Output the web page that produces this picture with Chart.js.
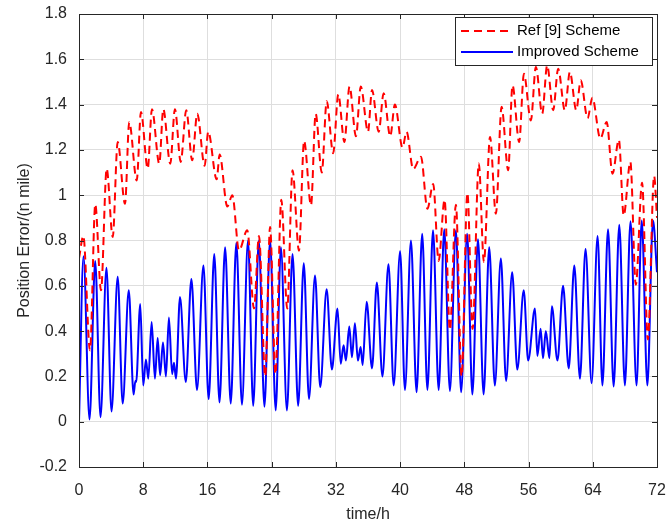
<!DOCTYPE html>
<html>
<head>
<meta charset="utf-8">
<script src="https://cdn.jsdelivr.net/npm/chart.js@4.4.0/dist/chart.umd.min.js"></script>
<style>
  html, body { margin: 0; padding: 0; background: #fff; }
</style>
</head>
<body>
<canvas id="errChart" width="668" height="526"></canvas>
<script>
const xTicks = [0, 8, 16, 24, 32, 40, 48, 56, 64, 72];
const yTicks = [-0.2, 0, 0.2, 0.4, 0.6, 0.8, 1, 1.2, 1.4, 1.6, 1.8];

const seriesNames = ['Ref [9] Scheme', 'Improved Scheme'];

// Ref [9] scheme (red dashed) at peaks / troughs
const refTime = [0, 0.54, 1.37, 2.03, 2.74, 3.45, 4.2, 4.82, 5.73, 6.26, 7.19, 7.72, 8.56, 9.09,
  10.0, 10.5, 11.37, 11.95, 12.67, 13.36, 14.1, 14.73, 15.65, 16.1, 17.15, 17.52, 18.47, 19.1,
  19.93, 20.96, 21.8, 22.42, 23.2, 23.8, 24.47, 25.2, 25.94, 26.6, 27.4, 28.04, 28.9, 29.48,
  30.24, 30.86, 31.66, 32.3, 33.06, 33.7, 34.5, 35.1, 36.0, 36.5, 37.33, 37.95, 38.77, 39.35,
  40.3, 40.8, 41.63, 42.6, 43.4, 44.12, 44.8, 45.54, 46.2, 46.95, 47.66, 48.38, 49.03, 49.8,
  50.44, 51.2, 51.93, 52.64, 53.46, 54.0, 54.83, 55.42, 56.29, 56.91, 57.7, 58.32, 59.07, 59.69,
  60.52, 61.15, 61.94, 62.5, 63.35, 63.95, 64.94, 65.73, 66.46, 67.25, 67.85, 68.68, 69.36,
  70.14, 70.86, 71.64, 72];
const refError = [0.72, 0.82, 0.315, 0.96, 0.58, 1.117, 0.815, 1.235, 0.962, 1.323, 1.065, 1.367, 1.117, 1.38,
  1.139, 1.38, 1.139, 1.38, 1.147, 1.375, 1.154, 1.36, 1.13, 1.28, 1.07, 1.18, 0.95, 1.0,
  0.756, 0.845, 0.5, 0.82, 0.2, 0.86, 0.21, 0.98, 0.5, 1.11, 0.755, 1.24, 0.955, 1.36,
  1.1, 1.415, 1.185, 1.445, 1.235, 1.48, 1.26, 1.48, 1.28, 1.465, 1.28, 1.45, 1.26, 1.4,
  1.21, 1.28, 1.115, 1.17, 0.94, 1.05, 0.71, 0.98, 0.405, 0.958, 0.2, 1.01, 0.41, 1.14,
  0.705, 1.257, 0.918, 1.39, 1.11, 1.485, 1.235, 1.536, 1.33, 1.566, 1.36, 1.573, 1.375, 1.558,
  1.375, 1.544, 1.375, 1.507, 1.34, 1.43, 1.25, 1.323, 1.095, 1.245, 0.91, 1.147, 0.605,
  1.055, 0.363, 1.085, 0.9];

// Improved scheme (blue solid)
const impTime = [0, 0.56, 1.31, 2.02, 2.68, 3.42, 4.05, 4.82, 5.44, 6.2, 6.8, 7.02, 7.12, 7.63,
  8.0, 8.34, 8.63, 9.05, 9.46, 9.8, 10.1, 10.46, 10.83, 11.2, 11.6, 11.83, 12.08, 12.58,
  13.3, 14.0, 14.7, 15.5, 16.15, 16.85, 17.5, 18.2, 18.9, 19.6, 20.3, 21.05, 21.7, 22.4,
  23.1, 23.8, 24.5, 25.15, 25.9, 26.6, 27.3, 28.0, 28.65, 29.4, 30.05, 30.85, 31.5, 32.2,
  32.6, 32.96, 33.25, 33.67, 34.0, 34.37, 34.74, 35.08, 35.33, 35.83, 36.5, 37.1, 37.8, 38.55,
  39.2, 40.0, 40.6, 41.35, 42.05, 42.75, 43.4, 44.1, 44.8, 45.5, 46.2, 46.95, 47.6, 48.35,
  49.0, 49.7, 50.4, 51.1, 51.8, 52.55, 53.2, 53.96, 54.6, 55.4, 55.95, 56.8, 57.1, 57.5,
  57.8, 58.15, 58.6, 58.9, 59.6, 60.3, 61.0, 61.7, 62.4, 63.1, 63.85, 64.6, 65.2, 65.9,
  66.6, 67.3, 68.0, 68.7, 69.45, 70.1, 70.8, 71.5, 72];
const impError = [0, 0.73, 0.01, 0.71, 0.02, 0.68, 0.045, 0.64, 0.08, 0.58, 0.12, 0.18, 0.175, 0.52,
  0.16, 0.275, 0.19, 0.44, 0.19, 0.37, 0.205, 0.35, 0.2, 0.46, 0.21, 0.26, 0.19, 0.55,
  0.175, 0.63, 0.14, 0.69, 0.1, 0.74, 0.085, 0.77, 0.08, 0.79, 0.075, 0.8, 0.07, 0.8,
  0.066, 0.8, 0.05, 0.77, 0.05, 0.74, 0.07, 0.7, 0.1, 0.645, 0.153, 0.585, 0.23, 0.5,
  0.256, 0.337, 0.27, 0.42, 0.285, 0.435, 0.27, 0.33, 0.25, 0.53, 0.235, 0.615, 0.2, 0.695,
  0.16, 0.753, 0.14, 0.8, 0.13, 0.83, 0.14, 0.845, 0.14, 0.85, 0.135, 0.845, 0.13, 0.83,
  0.12, 0.806, 0.12, 0.77, 0.16, 0.72, 0.18, 0.66, 0.23, 0.58, 0.27, 0.5, 0.29, 0.41,
  0.28, 0.4, 0.28, 0.51, 0.27, 0.6, 0.235, 0.69, 0.19, 0.763, 0.17, 0.82, 0.16, 0.85,
  0.155, 0.87, 0.16, 0.885, 0.16, 0.888, 0.16, 0.888, 0.66];

const FONT = 'Liberation Sans, Arial, sans-serif';
const AXIS_COLOR = '#262626';

function pts(xs, ys) {
  return xs.map((x, i) => ({ x: x, y: ys[i] }));
}

// MATLAB style box with inward ticks
const frame = {
  id: 'frame',
  afterDatasetsDraw(chart) {
    const { ctx, chartArea: a, scales } = chart;
    ctx.save();
    ctx.strokeStyle = AXIS_COLOR;
    ctx.lineWidth = 1;
    ctx.beginPath();
    scales.x.ticks.forEach(t => {
      const px = Math.round(scales.x.getPixelForValue(t.value)) + 0.5;
      ctx.moveTo(px, a.bottom); ctx.lineTo(px, a.bottom - 5);
      ctx.moveTo(px, a.top); ctx.lineTo(px, a.top + 5);
    });
    scales.y.ticks.forEach(t => {
      const py = Math.round(scales.y.getPixelForValue(t.value)) + 0.5;
      ctx.moveTo(a.left, py); ctx.lineTo(a.left + 5, py);
      ctx.moveTo(a.right, py); ctx.lineTo(a.right - 5, py);
    });
    ctx.stroke();
    ctx.strokeRect(Math.round(a.left) + 0.5, Math.round(a.top) + 0.5,
      Math.round(a.right - a.left), Math.round(a.bottom - a.top));
    ctx.restore();
  }
};

// legend drawn inside the axes, top right
const insideLegend = {
  id: 'insideLegend',
  afterDraw(chart) {
    const { ctx, chartArea: a } = chart;
    const w = 197, h = 48;
    const x0 = a.right - w - 5, y0 = a.top + 3;
    ctx.save();
    ctx.fillStyle = '#fff';
    ctx.fillRect(x0, y0, w, h);
    ctx.strokeStyle = AXIS_COLOR;
    ctx.lineWidth = 1;
    ctx.strokeRect(Math.round(x0) + 0.5, Math.round(y0) + 0.5, w, h);
    ctx.font = '15px ' + FONT;
    ctx.textBaseline = 'middle';
    chart.data.datasets.forEach((ds, i) => {
      const yy = y0 + 14 + i * 21;
      ctx.strokeStyle = ds.borderColor;
      ctx.lineWidth = ds.borderWidth;
      ctx.setLineDash(ds.borderDash || []);
      ctx.beginPath();
      ctx.moveTo(x0 + 6, yy);
      ctx.lineTo(x0 + 58, yy);
      ctx.stroke();
      ctx.setLineDash([]);
      ctx.fillStyle = '#000';
      ctx.fillText(ds.label, x0 + 62, yy);
    });
    ctx.restore();
  }
};

new Chart(document.getElementById('errChart'), {
  type: 'line',
  data: {
    datasets: [
      {
        label: seriesNames[0],
        data: pts(refTime, refError),
        borderColor: '#ff0000',
        borderWidth: 2,
        borderDash: [8, 5],
        pointRadius: 0,
        cubicInterpolationMode: 'monotone',
        fill: false
      },
      {
        label: seriesNames[1],
        data: pts(impTime, impError),
        borderColor: '#0000ff',
        borderWidth: 2,
        pointRadius: 0,
        cubicInterpolationMode: 'monotone',
        fill: false
      }
    ]
  },
  options: {
    responsive: false,
    animation: false,
    devicePixelRatio: 1,
    layout: { padding: { top: 14, right: 11, left: 0, bottom: 0 } },
    plugins: {
      legend: { display: false },
      tooltip: { enabled: false }
    },
    scales: {
      x: {
        type: 'linear',
        min: 0,
        max: 72,
        afterBuildTicks: s => { s.ticks = xTicks.map(v => ({ value: v })); },
        afterFit: s => { s.height = 59; s.paddingLeft = 0; s.paddingRight = 0; },
        grid: { color: '#dedede', drawTicks: false },
        border: { display: false },
        ticks: { color: AXIS_COLOR, padding: 14, font: { family: FONT, size: 16 } },
        title: {
          display: true, text: 'time/h', color: AXIS_COLOR,
          font: { family: FONT, size: 16 }, padding: { top: 0, bottom: 2 }
        }
      },
      y: {
        type: 'linear',
        min: -0.2,
        max: 1.8,
        afterBuildTicks: s => { s.ticks = yTicks.map(v => ({ value: v })); },
        afterFit: s => { s.width = 79; s.paddingTop = 0; s.paddingBottom = 0; },
        grid: { color: '#dedede', drawTicks: false },
        border: { display: false },
        ticks: {
          color: AXIS_COLOR, padding: 12, font: { family: FONT, size: 16 },
          callback: v => String(Math.round(v * 10) / 10)
        },
        title: {
          display: true, text: 'Position Error/(n mile)', color: AXIS_COLOR,
          font: { family: FONT, size: 16 }, padding: { top: 15, bottom: 0 }
        }
      }
    }
  },
  plugins: [frame, insideLegend]
});
</script>
</body>
</html>
